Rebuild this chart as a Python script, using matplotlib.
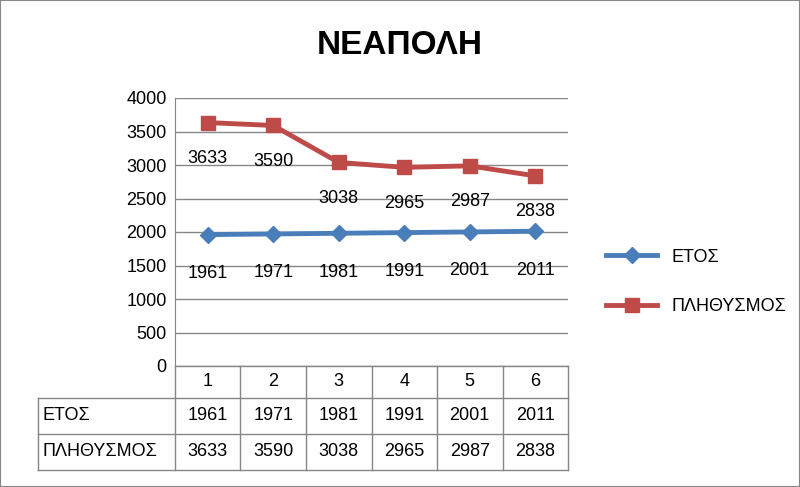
import matplotlib.pyplot as plt
from matplotlib.lines import Line2D
from matplotlib.patches import Rectangle

plt.rcParams['font.family'] = ['Liberation Sans', 'DejaVu Sans']

categories = ["1", "2", "3", "4", "5", "6"]
etos = [1961, 1971, 1981, 1991, 2001, 2011]
plithysmos = [3633, 3590, 3038, 2965, 2987, 2838]
series_names = ["ΕΤΟΣ", "ΠΛΗΘΥΣΜΟΣ"]

W, H = 800, 487
fig = plt.figure(figsize=(8, 4.87), dpi=100)
fig.patches.append(Rectangle((0, 0), 1, 1, transform=fig.transFigure,
                             fill=False, edgecolor="#888888", lw=1.5))

x0, x1, yb, yt = 175, 568, 366, 98
ax = fig.add_axes([x0 / W, 1 - yb / H, (x1 - x0) / W, (yb - yt) / H])

xs = list(range(len(categories)))
ax.plot(xs, etos, color="#4a7ebb", lw=3.5, marker="D", ms=8, label=series_names[0])
ax.plot(xs, plithysmos, color="#be4b48", lw=3.5, marker="s", ms=10, label=series_names[1])
for x, v in zip(xs, etos):
    ax.annotate(str(v), (x, v), xytext=(0, -28), textcoords="offset points",
                ha="center", va="center", fontsize=13)
for x, v in zip(xs, plithysmos):
    ax.annotate(str(v), (x, v), xytext=(0, -26), textcoords="offset points",
                ha="center", va="center", fontsize=13)

ax.set_xlim(-0.5, len(categories) - 0.5)
ax.set_ylim(0, 4000)
ax.set_yticks(range(0, 4001, 500))
ax.tick_params(axis="y", labelsize=13, length=0, pad=6)
ax.set_xticks([])
ax.grid(axis="y", color="#868686", lw=1)
ax.set_axisbelow(True)
for s in ["top", "right", "bottom"]:
    ax.spines[s].set_visible(False)
ax.spines["left"].set_color("#868686")

fig.text(400 / W, 1 - 45 / H, "ΝΕΑΠΟΛΗ", ha="center", va="center",
         fontsize=24, fontweight="bold")

# data table
rows = [366, 398, 434, 470]
lx = 38
col_w = (x1 - x0) / len(categories)
def fx(p): return p / W
def fy(p): return 1 - p / H
line_kw = dict(transform=fig.transFigure, color="#868686", lw=1)
fig.add_artist(Line2D([fx(x0), fx(x1)], [fy(rows[0])] * 2, **line_kw))
for r in rows[1:]:
    fig.add_artist(Line2D([fx(lx), fx(x1)], [fy(r)] * 2, **line_kw))
fig.add_artist(Line2D([fx(lx)] * 2, [fy(rows[1]), fy(rows[3])], **line_kw))
for i in range(len(categories) + 1):
    xp = x0 + i * col_w
    fig.add_artist(Line2D([fx(xp)] * 2, [fy(rows[0]), fy(rows[3])], **line_kw))
table_rows = [categories, [str(v) for v in etos], [str(v) for v in plithysmos]]
for ri, vals in enumerate(table_rows):
    yc = fy((rows[ri] + rows[ri + 1]) / 2)
    if ri > 0:
        fig.text(fx(lx + 5), yc, series_names[ri - 1], ha="left", va="center", fontsize=13)
    for ci, v in enumerate(vals):
        fig.text(fx(x0 + (ci + 0.5) * col_w), yc, v, ha="center", va="center", fontsize=13)

fig.legend(loc="center left", bbox_to_anchor=(590 / W, 1 - 282 / H), frameon=False,
           fontsize=13, handlelength=2.8, labelspacing=1.8)

fig.savefig("out.png", dpi=100)
